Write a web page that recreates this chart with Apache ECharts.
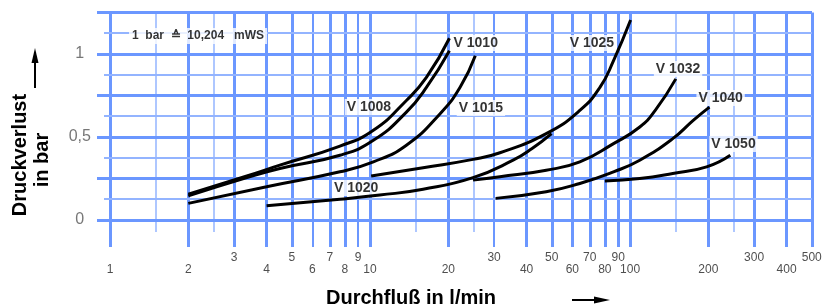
<!doctype html>
<html lang="de">
<head>
    <meta charset="UTF-8">
    <title>Druckverlust V-Reihe</title>
    <script src="https://cdn.jsdelivr.net/npm/echarts@6/dist/echarts.min.js"></script>
    <style>
        body { margin: 0; background: #fff; }
        #main { width: 834px; height: 307px; }
    </style>
</head>
<body>
<div id="main"></div>
<script type="text/javascript">

    // Achsen
    var xTicksUpper = [3, 5, 7, 9, 30, 50, 70, 90, 300, 500];
    var xTicksLower = [1, 2, 4, 6, 8, 10, 20, 40, 60, 80, 100, 200, 400];
    var yTicks = [0, 0.5, 1];
    var yTickText = ['0', '0,5', '1'];

    // Raster (senkrecht / waagerecht)
    var gridXThick = [1, 2, 3, 4, 5, 7, 8, 10, 20, 40, 50, 60, 70, 80, 90, 100, 200, 300, 400, 500];
    var gridXMid = [6, 9, 30];
    var gridXShort = [1.5, 2.5, 15, 25, 150, 250];
    var gridYMajor = [0, 0.25, 0.5, 0.75, 1, 1.25];
    var gridYMinor = [0.125, 0.375, 0.625, 0.875, 1.125];

    // Kennlinien [l/min, bar]
    var v1008 = [[2, 0.155], [3.36, 0.265], [4.5, 0.33], [7.66, 0.445], [10.3, 0.54], [13.8, 0.72], [16.5, 0.86], [20.2, 1.095]];
    var v1010 = [[2, 0.145], [3.36, 0.255], [4.5, 0.31], [7.66, 0.39], [10.3, 0.48], [13.8, 0.65], [16.5, 0.80], [20.2, 1.02]];
    var v1015 = [[2, 0.10], [4, 0.20], [7.66, 0.29], [10.3, 0.35], [13.8, 0.45], [18.6, 0.64], [22.2, 0.80], [25.4, 0.99]];
    var v1020 = [[4, 0.086], [7.66, 0.125], [10.9, 0.15], [16, 0.185], [24.9, 0.255], [35.5, 0.36], [42, 0.43], [49.9, 0.52]];
    var v1025 = [[10.1, 0.265], [16, 0.315], [24.9, 0.365], [31.6, 0.405], [47.6, 0.52], [64.1, 0.66], [76.7, 0.80], [86.4, 0.96], [100.5, 1.205]];
    var v1032 = [[24.9, 0.24], [31.6, 0.26], [47.6, 0.30], [64.1, 0.35], [86.4, 0.46], [109, 0.56], [125, 0.66], [150, 0.85]];
    var v1040 = [[30.4, 0.13], [47.6, 0.17], [64.1, 0.22], [86.4, 0.29], [109, 0.36], [146, 0.49], [175, 0.60], [202, 0.68]];
    var v1050 = [[80, 0.235], [109, 0.25], [146, 0.28], [197, 0.32], [243, 0.39]];

    var curveNames = ['V 1008', 'V 1010', 'V 1015', 'V 1020', 'V 1025', 'V 1032', 'V 1040', 'V 1050'];
    var curves = [v1008, v1010, v1015, v1020, v1025, v1032, v1040, v1050];
    // Beschriftung der Kennlinien
    var labelPos = [[9.9, 0.68], [25.5, 1.066], [26.7, 0.675], [8.84, 0.193], [71.3, 1.066], [153, 0.91], [223, 0.735], [250, 0.458]];
    var noteText = '1  bar  \u2259  10,204   mWS';
    var notePos = [2.18, 1.108];

    var X_MIN = 0.891, X_MAX = 501, Y_MIN = -0.163, Y_MAX = 1.25;

    var blue = '#6b97ff', lightBlue = '#93b4ff';

    function ls(color, width) {
        return {color: color, width: width, type: 'solid'};
    }

    var gridLines = [];
    gridXThick.forEach(function (x) {
        gridLines.push([{coord: [x, Y_MAX], lineStyle: ls(blue, 3)}, {coord: [x, Y_MIN]}]);
    });
    gridXMid.forEach(function (x) {
        gridLines.push([{coord: [x, Y_MAX], lineStyle: ls(blue, 2)}, {coord: [x, Y_MIN]}]);
    });
    gridXShort.forEach(function (x) {
        gridLines.push([{coord: [x, Y_MAX], lineStyle: ls(lightBlue, 1.5)}, {coord: [x, -0.072]}]);
    });
    gridYMajor.forEach(function (y) {
        gridLines.push([{coord: [X_MIN, y], lineStyle: ls(blue, 3)}, {coord: [X_MAX, y]}]);
    });
    gridYMinor.forEach(function (y) {
        gridLines.push([{coord: [0.948, y], lineStyle: ls(lightBlue, 2)}, {coord: [X_MAX, y]}]);
    });

    var tickData = [];
    xTicksUpper.forEach(function (x) { tickData.push({value: [x, -0.229], name: String(x)}); });
    xTicksLower.forEach(function (x) { tickData.push({value: [x, -0.301], name: String(x)}); });

    var yTickData = yTicks.map(function (y, i) {
        return {value: [0.765, y], name: yTickText[i]};
    });

    var labelData = curveNames.map(function (n, i) {
        return {value: labelPos[i], name: n};
    });
    labelData.push({
        value: notePos, name: noteText,
        label: {fontSize: 12, fontWeight: 'bold', padding: [2, 3]}
    });

    var series = [{
        name: 'raster',
        type: 'line',
        data: [],
        silent: true,
        z: 1,
        markLine: {
            silent: true,
            z: 1,
            symbol: ['none', 'none'],
            label: {show: false},
            lineStyle: {type: 'solid'},
            emphasis: {disabled: true},
            animation: false,
            data: gridLines
        }
    }, {
        name: 'xticks',
        type: 'scatter',
        clip: false,
        silent: true,
        symbolSize: 1,
        itemStyle: {color: 'transparent'},
        label: {
            show: true, position: 'inside', formatter: '{b}',
            color: '#222', fontSize: 12, fontFamily: 'Liberation Sans, Arial, sans-serif'
        },
        data: tickData
    }, {
        name: 'yticks',
        type: 'scatter',
        clip: false,
        silent: true,
        symbolSize: 1,
        itemStyle: {color: 'transparent'},
        label: {
            show: true, position: 'inside', formatter: '{b}',
            color: '#555', fontSize: 16, fontFamily: 'Liberation Sans, Arial, sans-serif'
        },
        data: yTickData
    }];

    curves.forEach(function (c, i) {
        series.push({
            name: curveNames[i],
            type: 'line',
            data: c,
            smooth: 0.5,
            showSymbol: false,
            silent: true,
            z: 4,
            lineStyle: {color: '#000', width: 3}
        });
    });

    series.push({
        name: 'labels',
        type: 'scatter',
        clip: false,
        silent: true,
        symbolSize: 1,
        z: 3,
        itemStyle: {color: 'transparent'},
        label: {
            show: true, position: 'inside', formatter: '{b}',
            color: '#000', fontSize: 14, fontWeight: 'bold',
            fontFamily: 'Liberation Sans, Arial, sans-serif',
            backgroundColor: '#fff', padding: [1, 2]
        },
        data: labelData
    });

    var chart = echarts.init(document.getElementById('main'));
    var option = {
        animation: false,
        backgroundColor: '#fff',
        grid: {left: 97, right: 22, top: 12.5, bottom: 60},
        xAxis: {
            type: 'log', logBase: 10, min: X_MIN, max: X_MAX,
            axisLine: {show: false}, axisTick: {show: false},
            axisLabel: {show: false}, splitLine: {show: false}
        },
        yAxis: {
            type: 'value', min: Y_MIN, max: Y_MAX,
            axisLine: {show: false}, axisTick: {show: false},
            axisLabel: {show: false}, splitLine: {show: false}
        },
        graphic: [
            {type: 'text', x: 20, y: 155, rotation: Math.PI / 2,
                style: {text: 'Druckverlust', font: 'bold 20px "Liberation Sans", Arial, sans-serif',
                    textAlign: 'center', textVerticalAlign: 'middle', fill: '#000'}},
            {type: 'text', x: 42, y: 160, rotation: Math.PI / 2,
                style: {text: 'in bar', font: 'bold 20px "Liberation Sans", Arial, sans-serif',
                    textAlign: 'center', textVerticalAlign: 'middle', fill: '#000'}},
            {type: 'line', shape: {x1: 35, y1: 88, x2: 35, y2: 60}, style: {stroke: '#000', lineWidth: 2}},
            {type: 'polygon', shape: {points: [[31.5, 63], [38.5, 63], [35, 48]]}, style: {fill: '#000'}},
            {type: 'text', x: 411, y: 298,
                style: {text: 'Durchflu\u00df in l/min', font: 'bold 20px "Liberation Sans", Arial, sans-serif',
                    textAlign: 'center', textVerticalAlign: 'middle', fill: '#000'}},
            {type: 'line', shape: {x1: 572, y1: 300, x2: 596, y2: 300}, style: {stroke: '#000', lineWidth: 2}},
            {type: 'polygon', shape: {points: [[594, 296.5], [594, 303.5], [610, 300]]}, style: {fill: '#000'}}
        ],
        series: series
    };
    chart.setOption(option);

</script>
</body>
</html>
